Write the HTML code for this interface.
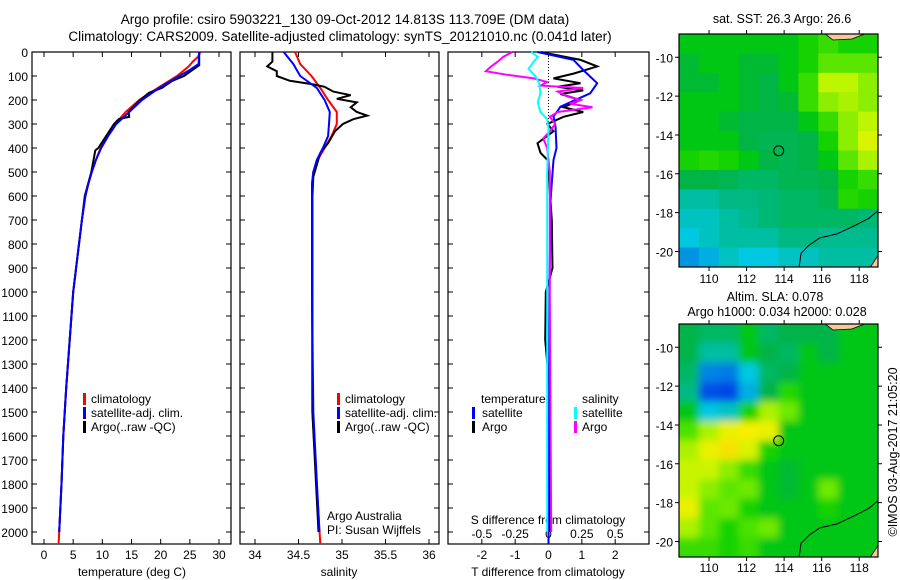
<!DOCTYPE html>
<html><head><meta charset="utf-8"><style>
body{margin:0;background:#fff;width:900px;height:580px;overflow:hidden}
svg{display:block;font-family:"Liberation Sans",sans-serif;font-size:12px}
</style></head><body>
<svg id="chart" width="900" height="580" viewBox="0 0 900 580" xmlns="http://www.w3.org/2000/svg">
<defs>
<filter id="blur" x="-10%" y="-10%" width="120%" height="120%"><feGaussianBlur stdDeviation="4"/></filter>
<clipPath id="slaclip"><rect x="679" y="324" width="199" height="233"/></clipPath>
</defs>
<text x="345" y="24" text-anchor="middle" font-size="13.5">Argo profile: csiro 5903221_130 09-Oct-2012 14.813S 113.709E (DM data)</text>
<text x="340" y="41" text-anchor="middle" font-size="13.5">Climatology: CARS2009. Satellite-adjusted climatology: synTS_20121010.nc (0.041d later)</text>
<text x="782" y="23" text-anchor="middle" font-size="12.5">sat. SST: 26.3 Argo: 26.6</text>
<text x="775" y="301" text-anchor="middle" font-size="12.5">Altim. SLA: 0.078</text>
<text x="777" y="316" text-anchor="middle" font-size="12.5">Argo h1000: 0.034 h2000: 0.028</text>
<text transform="translate(897,452) rotate(-90)" text-anchor="middle" font-size="12.5">©IMOS 03-Aug-2017 21:05:20</text>
<g id="g"></g>
</svg>
<script>
// ---- data ----
const depthTicks=[0,100,200,300,400,500,600,700,800,900,1000,1100,1200,1300,1400,1500,1600,1700,1800,1900,2000];
const tempTicks=[0,5,10,15,20,25,30];
const salTicks=[34,34.5,35,35.5,36];
const tdiffTicks=[-2,-1,0,1,2];
const sdiffTickLabels=["-0.5","-0.25","0","0.25","0.5"];
const lonTicks=[110,112,114,116,118];
const latTicks=[-10,-12,-14,-16,-18,-20];

const tClimDepth=[0,20,40,60,100,150,200,250,300,350,400,450,500,550,600,700,800,900,1000,1200,1400,1600,1800,2000,2050];
const tClim=[26.8,26.4,25.5,24.8,22.8,19.5,16.3,14.0,12.2,10.9,9.7,8.9,8.2,7.6,7.1,6.5,6.0,5.5,5.0,4.4,3.8,3.3,3.0,2.6,2.5];
const tSatDepth=[0,50,75,100,150,200,250,300,350,400,450,500,550,600,700,800,900,1000,1200,1400,1600,1800,2000];
const tSat=[26.6,26.5,25.0,23.2,19.7,16.8,14.6,12.4,11.0,9.8,8.9,8.2,7.6,7.1,6.5,6.0,5.5,5.0,4.4,3.8,3.3,3.0,2.6];
const tArgoDepth=[0,55,100,120,150,170,200,250,270,280,300,400,410,500,600,700,800,900,1000,1200,1400,1600,1800,2000];
const tArgo=[26.6,26.6,24.0,22.0,20.2,18.0,16.5,14.5,14.6,12.8,12.0,9.3,8.8,8.1,7.0,6.5,6.0,5.5,5.0,4.4,3.8,3.3,3.0,2.6];

const sClimDepth=[0,50,100,150,200,250,300,350,400,450,500,550,1000,1500,2050];
const sClim=[34.46,34.52,34.65,34.75,34.84,34.94,34.94,34.88,34.80,34.72,34.67,34.655,34.655,34.66,34.75];
const sSatDepth=[0,50,100,150,200,250,300,350,400,450,500,550,1000,1500,2000];
const sSat=[34.33,34.44,34.52,34.71,34.80,34.86,34.85,34.84,34.78,34.71,34.67,34.655,34.655,34.67,34.74];
const sArgoDepth=[0,40,60,80,100,120,135,145,165,180,195,210,230,250,265,280,300,330,380,420,470,520,600,1500,2000];
const sArgo=[34.2,34.2,34.14,34.25,34.25,34.4,34.67,34.80,34.9,35.1,34.94,35.17,35.1,35.17,35.29,35.13,35.01,34.92,34.84,34.75,34.71,34.67,34.66,34.66,34.73];

const dTSatDepth=[0,33,75,130,172,228,269,311,400,450,505,620,1000,2050];
const dTSat=[-0.33,0.75,1.04,1.46,1.25,0.36,0.15,0.21,0.24,0.15,0.12,0.06,0.03,0];
const dTArgoDepth=[0,33,60,90,110,130,145,160,175,200,230,250,270,300,330,380,420,450,500,700,900,1000,1200,1400,1700,2000];
const dTArgo=[-0.24,0.96,1.46,0.75,0.15,0.96,0.27,1.04,0.36,0.96,0.45,1.04,0.45,-0.03,0.15,-0.33,-0.24,-0.03,0,0.1,0.12,-0.08,-0.1,0.03,0.05,0.03];
const dSArgoDepth=[0,20,40,60,80,95,110,125,140,150,165,185,200,215,230,250,270,300,330,360,400,500,1000,2000];
const dSArgo=[-0.27,-0.34,-0.38,-0.43,-0.47,-0.31,-0.11,-0.01,-0.06,0.26,0.07,0.14,0.24,0.16,0.33,0.07,0.01,0.05,0.01,-0.04,-0.01,0.01,0.01,0.02];
const dSSatDepth=[0,20,40,70,100,130,170,210,250,280,320,500,2000];
const dSSat=[-0.13,-0.08,-0.11,-0.15,-0.1,-0.07,-0.06,-0.08,-0.06,-0.01,0,-0.01,-0.01];

const sstGrid=[
[0.55,0.55,0.55,0.55,0.55,0.55,0.6,0.65,0.6,0.6],
[0.52,0.55,0.55,0.52,0.52,0.55,0.6,0.7,0.7,0.7],
[0.52,0.52,0.55,0.52,0.5,0.55,0.65,0.8,0.8,0.75],
[0.55,0.55,0.55,0.52,0.5,0.52,0.65,0.75,0.78,0.75],
[0.55,0.55,0.52,0.5,0.5,0.5,0.55,0.65,0.75,0.8],
[0.55,0.55,0.55,0.5,0.48,0.48,0.5,0.6,0.75,0.85],
[0.6,0.62,0.6,0.55,0.5,0.48,0.5,0.55,0.7,0.78],
[0.5,0.5,0.48,0.45,0.45,0.48,0.48,0.5,0.6,0.65],
[0.35,0.35,0.4,0.4,0.42,0.45,0.45,0.48,0.62,0.6],
[0.3,0.3,0.35,0.38,0.42,0.45,0.45,0.45,0.45,0.42],
[0.25,0.3,0.35,0.35,0.35,0.4,0.4,0.38,0.38,0.38],
[0.15,0.2,0.3,0.25,0.25,0.3,0.3,0.35,0.35,0.35]];
const slaGrid=[
[0.5,0.45,0.45,0.55,0.45,0.5,0.5,0.5,0.55,0.55],
[0.5,0.35,0.35,0.55,0.5,0.45,0.55,0.5,0.55,0.55],
[0.45,0.12,0.1,0.25,0.45,0.5,0.55,0.55,0.55,0.55],
[0.4,0.02,0.0,0.2,0.5,0.62,0.55,0.55,0.55,0.55],
[0.55,0.25,0.3,0.6,0.78,0.72,0.55,0.55,0.55,0.55],
[0.68,0.78,0.88,0.9,0.88,0.55,0.55,0.55,0.55,0.55],
[0.78,0.88,0.92,0.85,0.6,0.55,0.55,0.55,0.55,0.55],
[0.82,0.82,0.75,0.65,0.55,0.52,0.55,0.55,0.55,0.55],
[0.82,0.75,0.7,0.72,0.55,0.52,0.55,0.72,0.55,0.55],
[0.88,0.7,0.72,0.6,0.55,0.55,0.55,0.6,0.55,0.55],
[0.78,0.7,0.6,0.68,0.72,0.55,0.55,0.55,0.55,0.55],
[0.65,0.65,0.6,0.65,0.55,0.55,0.55,0.55,0.55,0.55]];
const argoLon=113.709, argoLat=-14.813;

// ---- drawing ----
const NS="http://www.w3.org/2000/svg";
const G=document.getElementById('g');
function mk(tag,attrs,parent){const e=document.createElementNS(NS,tag);for(const k in attrs)e.setAttribute(k,attrs[k]);(parent||G).appendChild(e);return e;}
const TOP=52,BOT=544;
const yD=d=>TOP+d*0.24;
function lin(d0,d1,p0,p1){return v=>p0+(v-d0)*(p1-p0)/(d1-d0);}
const xT=lin(0,30,44,219);
const xS=lin(34,36,255,429);
const xDT=lin(-3,3,448.5,648.5);
const xDS=v=>xDT(v*4);

function panel(name,x0,x1){
  const r=mk('rect',{x:x0,y:TOP,width:x1-x0,height:BOT-TOP,fill:'none',stroke:'#000','stroke-width':1.2});
  
  
  depthTicks.forEach(d=>{
    const t=mk('path',{d:`M${x0},${yD(d)}h5M${x1},${yD(d)}h-5`,stroke:'#000','stroke-width':1});
    
    
  });
}
function xticks(name,vals,f,labels,ly){
  vals.forEach((v,i)=>{
    const t=mk('path',{d:`M${f(v)},${TOP}v5M${f(v)},${BOT}v-5`,stroke:'#000','stroke-width':1});
    
    
    const l=mk('text',{x:f(v),y:ly,'text-anchor':'middle'});
    l.textContent=labels?labels[i]:String(v);
    
    
  });
}
function line(name,xs,ds,fx,color,w){
  const p=ds.map((d,i)=>(i?'L':'M')+fx(xs[i]).toFixed(1)+','+yD(d).toFixed(1)).join('');
  const e=mk('path',{d:p,fill:'none',stroke:color,'stroke-width':w||2,'stroke-linejoin':'miter'});
  
  
}
function txt(name,s,x,y,anchor){const t=mk('text',{x:x,y:y,'text-anchor':anchor||'start'});t.textContent=s;
  
  return t;}
function legMark(name,x,y,color){const e=mk('rect',{x:x,y:y-10,width:3,height:12,fill:color});
  
  }

// Panel 1
panel('temp-panel',32,231);
depthTicks.forEach(d=>{txt('depth-tick-label',String(d),28,yD(d)+5,'end');});
xticks('temp-x',tempTicks,xT,null,559);
txt('temp-x-title','temperature (deg C)',132,576,'middle');
line('temp-climatology',tClim,tClimDepth,xT,'#ff0000');
line('temp-argo',tArgo,tArgoDepth,xT,'#000000');
line('temp-satellite-adj',tSat,tSatDepth,xT,'#0000ff');
[['climatology','#ff0000'],['satellite-adj. clim.','#0000ff'],['Argo(..raw -QC)','#000000']].forEach((l,i)=>{
  legMark('temp-legend-marker',83,403+i*14,l[1]);txt('temp-legend-entry',l[0],91,403+i*14);});

// Panel 2
panel('sal-panel',240,439);
xticks('sal-x',salTicks,xS,null,559);
txt('sal-x-title','salinity',339,576,'middle');
line('sal-climatology',sClim,sClimDepth,xS,'#ff0000');
line('sal-argo',sArgo,sArgoDepth,xS,'#000000');
line('sal-satellite-adj',sSat,sSatDepth,xS,'#0000ff');
[['climatology','#ff0000'],['satellite-adj. clim.','#0000ff'],['Argo(..raw -QC)','#000000']].forEach((l,i)=>{
  legMark('sal-legend-marker',337,403+i*14,l[1]);txt('sal-legend-entry',l[0],345,403+i*14);});
txt('credit-argo-australia','Argo Australia',327,520);
txt('credit-pi','PI: Susan Wijffels',327,534);

// Panel 3
panel('diff-panel',448,649);
const dz=mk('line',{x1:xDT(0),y1:TOP,x2:xDT(0),y2:yD(300),stroke:'#000','stroke-dasharray':'1,2','stroke-width':1});


xticks('tdiff-x',tdiffTicks,xDT,null,559);
sdiffTickLabels.forEach((s,i)=>{txt('sdiff-tick-label',s,xDT(tdiffTicks[i]),538,'middle');});
txt('sdiff-title','S difference from climatology',548,524,'middle');
txt('tdiff-x-title','T difference from climatology',548,576,'middle');
line('tdiff-argo',dTArgo,dTArgoDepth,xDT,'#000000');
line('tdiff-satellite',dTSat,dTSatDepth,xDT,'#0000ff');
line('sdiff-argo',dSArgo,dSArgoDepth,xDS,'#ff00ff');
line('sdiff-satellite',dSSat,dSSatDepth,xDS,'#00ffff');
txt('legend-temperature-header','temperature',481,403);
txt('legend-salinity-header','salinity',582,403);
legMark('legend-marker',472,417,'#0000ff');txt('legend-entry','satellite',482,417);
legMark('legend-marker',472,431,'#000000');txt('legend-entry','Argo',482,431);
legMark('legend-marker',574,417,'#00ffff');txt('legend-entry','satellite',582,417);
legMark('legend-marker',574,431,'#ff00ff');txt('legend-entry','Argo',582,431);

// Maps
const stops=[[0,[0,70,230]],[0.25,[0,200,225]],[0.4,[0,185,130]],[0.5,[0,180,70]],[0.57,[0,205,0]],[0.7,[90,230,0]],[0.8,[190,245,0]],[0.9,[245,240,0]],[1,[245,170,0]]];
function cmap(v){for(let i=1;i<stops.length;i++){if(v<=stops[i][0]){const a=stops[i-1],b=stops[i],t=(v-a[0])/(b[0]-a[0]);
  return 'rgb('+a[1].map((c,k)=>Math.round(c+(b[1][k]-c)*t)).join(',')+')';}}return 'rgb(245,170,0)';}
function map(name,grid,y0,y1,labY,smooth){
  const x0=679,x1=878,lon0=108.4,lon1=119.0,lat0=-8.8,lat1=-20.8;
  const fx=lin(lon0,lon1,x0,x1), fy=lin(lat0,lat1,y0,y1);
  const rows=grid.length, cols=grid[0].length;
  const cw=(lon1-lon0)/cols, ch=(lat0-lat1)/rows;
  let host=G;
  if(smooth){const cg=mk('g',{'clip-path':'url(#slaclip)'});
    
    
    const bg=mk('rect',{x:x0,y:y0,width:x1-x0,height:y1-y0,fill:cmap(0.55)},cg);
    
    
    host=mk('g',{filter:'url(#blur)'},cg);}
  grid.forEach((row,r)=>row.forEach((v,c)=>{
    let xa=fx(lon0+c*cw), ya=fy(lat0-r*ch);
    let w=fx(lon0+(c+1)*cw)-xa+0.5, h=fy(lat0-(r+1)*ch)-ya+0.5;
    if(smooth){ if(c==0){xa-=12;w+=12;} if(c==cols-1)w+=12; if(r==0){ya-=12;h+=12;} if(r==rows-1)h+=12; }
    const e=mk('rect',{x:xa,y:ya,width:w,height:h,fill:cmap(v)},host);
    
    
  }));
  const land=mk('path',{d:`M${fx(116.2)},${y0}L${fx(116.6)},${y0+6}L${fx(117.6)},${y0+5}L${fx(118.3)},${y0}Z M${fx(118.6)},${y1}L${x1},${fy(-20.2)}L${x1},${y1}Z`,fill:'#f9c89a',stroke:'#000','stroke-width':0.8});
  
  
  const coast=mk('path',{d:`M${x1},${fy(-17.9)}L${fx(118.5)},${fy(-18.3)}L${fx(117.7)},${fy(-18.7)}L${fx(116.8)},${fy(-19.1)}L${fx(115.9)},${fy(-19.3)}L${fx(115.3)},${fy(-19.7)}L${fx(114.9)},${fy(-20.1)}L${fx(114.8)},${y1}`,fill:'none',stroke:'#000','stroke-width':1});
  
  
  const fr=mk('rect',{x:x0,y:y0,width:x1-x0,height:y1-y0,fill:'none',stroke:'#000','stroke-width':1.2});
  
  
  lonTicks.forEach(v=>{const t=mk('path',{d:`M${fx(v)},${y0}v-4M${fx(v)},${y1}v4`,stroke:'#000'});
    
    
    txt(name+'-lon-label',String(v),fx(v),labY,'middle');});
  latTicks.forEach(v=>{const t=mk('path',{d:`M${x0},${fy(v)}h-4M${x1},${fy(v)}h4`,stroke:'#000'});
    
    
    txt(name+'-lat-label',String(v),673,fy(v)+5,'end');});
  const c=mk('circle',{cx:fx(argoLon),cy:fy(argoLat),r:5,fill:'none',stroke:'#000','stroke-width':1});
  
  
}
map('sst-map',sstGrid,34,267,283,false);
map('sla-map',slaGrid,324,557,572,true);
</script>
</body></html>
